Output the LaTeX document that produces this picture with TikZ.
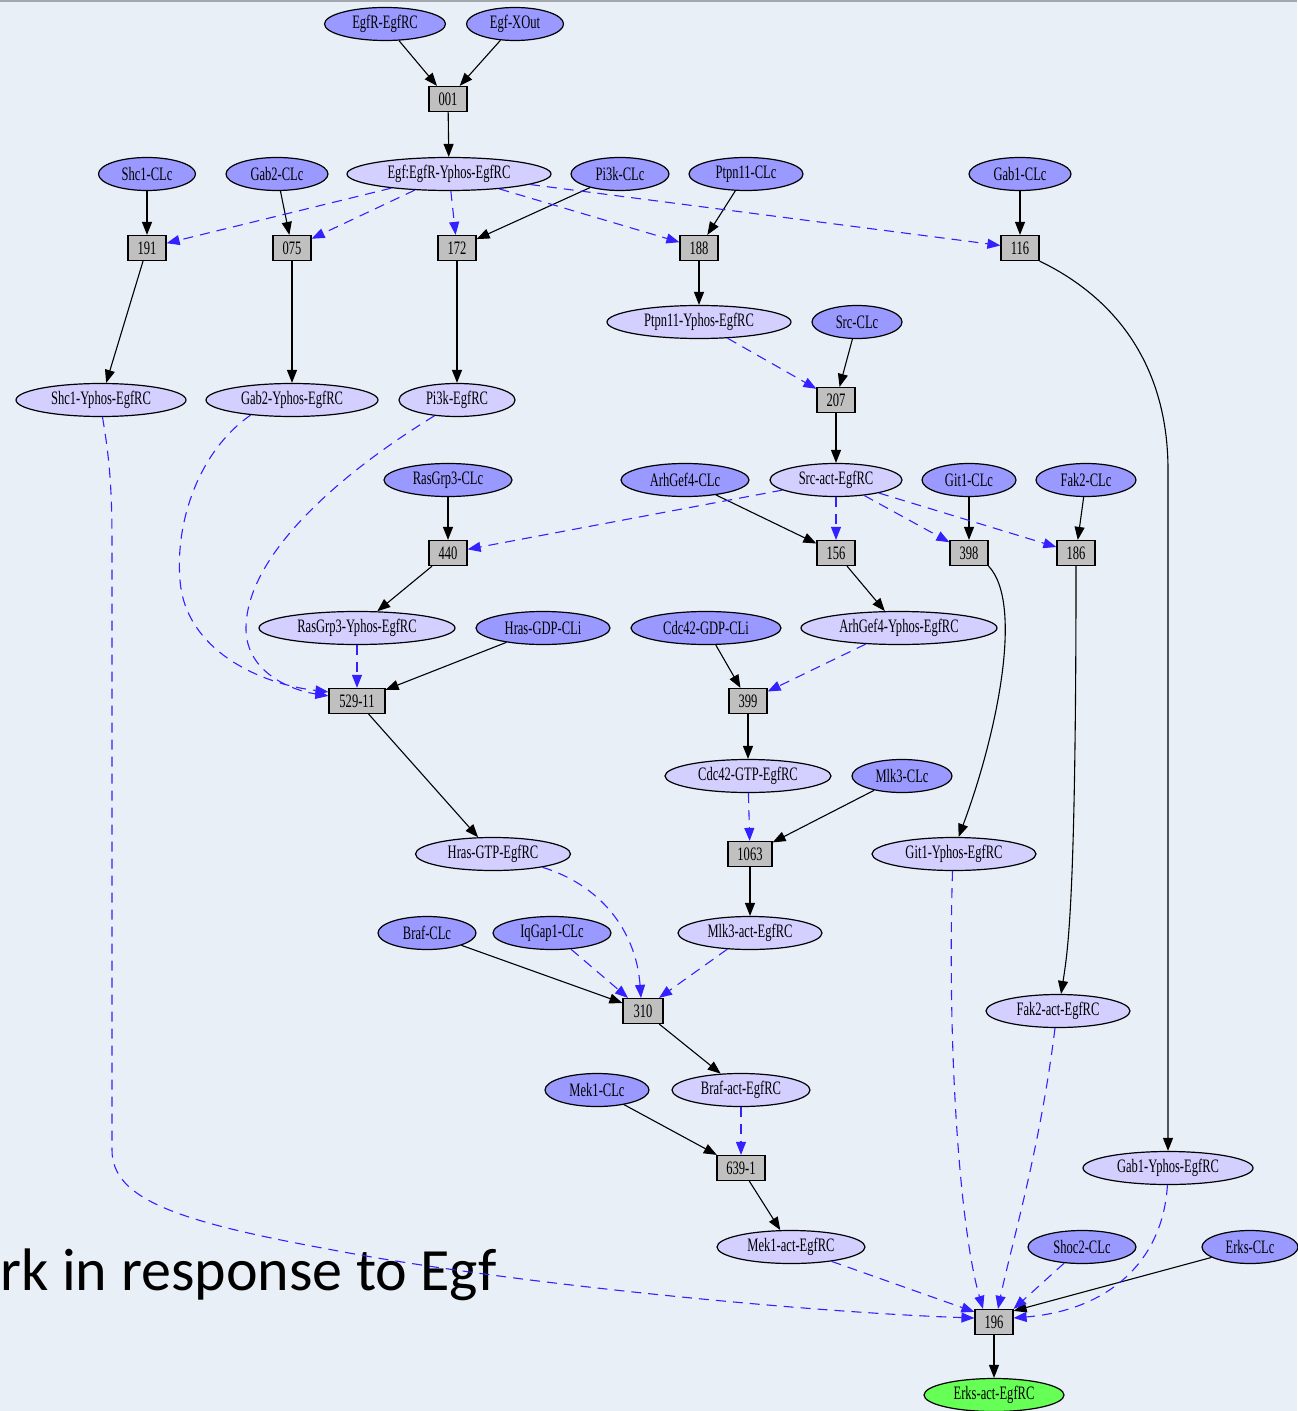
\documentclass[tikz,border=0pt]{standalone}
\usepackage{fontspec}
\newfontfamily\gvfont[FakeStretch=0.66]{Liberation Serif}
\newfontfamily\titlefont{Carlito}
\usetikzlibrary{shapes.geometric,arrows.meta}

\definecolor{paper}{HTML}{E9EFF6}
\definecolor{topedge}{HTML}{A4A8AE}
\definecolor{clc}{HTML}{9999FF}
\definecolor{cplx}{HTML}{D3CFFF}
\definecolor{rxn}{HTML}{C0C0C0}
\definecolor{goal}{HTML}{66FF55}
\definecolor{modlink}{HTML}{3322FF}

\tikzset{
  species/.style={ellipse, draw=black, line width=0.6pt, inner sep=0pt,
    minimum height=16.5pt, font=\gvfont\fontsize{9.5}{10}\selectfont},
  free/.style={species, fill=clc},
  bound/.style={species, fill=cplx},
  target/.style={species, fill=goal},
  wd/.style={minimum width=#1*0.5pt},
  rxnbox/.style={rectangle, draw=black, line width=0.6pt, fill=rxn, inner sep=0pt,
    minimum height=12.5pt, minimum width=19pt, font=\gvfont\fontsize{9.5}{10}\selectfont},
  flow/.style={draw=black, line width=0.55pt, -{Triangle[length=6.5pt,width=5pt]}},
  modlinkarrow/.style={draw=modlink, line width=0.55pt, dash pattern=on 5pt off 3.5pt,
    -{Triangle[length=6.5pt,width=5pt]}},
}

\begin{document}
\begin{tikzpicture}[x=0.5pt,y=-0.5pt]
\useasboundingbox (0,0) rectangle (1297,1411);
\fill[paper] (0,0) rectangle (1297,1411);
\fill[topedge] (0,0) rectangle (1297,2);

% title line
\node[anchor=base west, inner sep=0pt, font=\titlefont\fontsize{30}{34}\selectfont] (title) at (0,1290) {rk in response to Egf};

% species and reactions
\node[free,wd=121] (egfr) at (385,24) {EgfR-EgfRC};
\node[free,wd=97] (egfx) at (515,24) {Egf-XOut};
\node[rxnbox] (r001) at (448,99) {001};
\node[bound,wd=204] (egfy) at (449,174) {Egf:EgfR-Yphos-EgfRC};
\node[free,wd=97] (shc1) at (147,174) {Shc1-CLc};
\node[free,wd=102] (gab2) at (277,174) {Gab2-CLc};
\node[free,wd=98] (pi3k) at (620,174) {Pi3k-CLc};
\node[free,wd=114] (ptpn) at (746,174) {Ptpn11-CLc};
\node[free,wd=102] (gab1) at (1020,174) {Gab1-CLc};
\node[rxnbox] (r191) at (147,248) {191};
\node[rxnbox] (r075) at (292,248) {075};
\node[rxnbox] (r172) at (457,248) {172};
\node[rxnbox] (r188) at (699,248) {188};
\node[rxnbox] (r116) at (1020,248) {116};
\node[bound,wd=184] (ptpny) at (699,322) {Ptpn11-Yphos-EgfRC};
\node[free,wd=90] (src) at (857,322) {Src-CLc};
\node[rxnbox] (r207) at (836,400) {207};
\node[bound,wd=170] (shc1y) at (101,400) {Shc1-Yphos-EgfRC};
\node[bound,wd=172] (gab2y) at (292,400) {Gab2-Yphos-EgfRC};
\node[bound,wd=116] (pi3ke) at (457,400) {Pi3k-EgfRC};
\node[free,wd=128] (rasg) at (448,480) {RasGrp3-CLc};
\node[free,wd=128] (arhg) at (685,480) {ArhGef4-CLc};
\node[bound,wd=132] (srca) at (836,480) {Src-act-EgfRC};
\node[free,wd=94] (git1) at (969,480) {Git1-CLc};
\node[free,wd=100] (fak2) at (1086,480) {Fak2-CLc};
\node[rxnbox] (r440) at (448,553) {440};
\node[rxnbox] (r156) at (836,553) {156};
\node[rxnbox] (r398) at (969,553) {398};
\node[rxnbox] (r186) at (1076,553) {186};
\node[bound,wd=196] (rasgy) at (357,628) {RasGrp3-Yphos-EgfRC};
\node[free,wd=134] (hrasgdp) at (543,628) {Hras-GDP-CLi};
\node[free,wd=150] (cdcgdp) at (706,628) {Cdc42-GDP-CLi};
\node[bound,wd=196] (arhgy) at (899,628) {ArhGef4-Yphos-EgfRC};
\node[rxnbox,minimum width=28pt] (r529) at (357,701) {529-11};
\node[rxnbox] (r399) at (748,701) {399};
\node[bound,wd=166] (cdcgtp) at (748,776) {Cdc42-GTP-EgfRC};
\node[free,wd=100] (mlk3) at (902,776) {Mlk3-CLc};
\node[rxnbox,minimum width=22pt] (r1063) at (750,854) {1063};
\node[bound,wd=155] (hrasgtp) at (493,854) {Hras-GTP-EgfRC};
\node[bound,wd=164] (git1y) at (954,854) {Git1-Yphos-EgfRC};
\node[free,wd=98] (braf) at (427,933) {Braf-CLc};
\node[free,wd=118] (iqgap) at (552,933) {IqGap1-CLc};
\node[bound,wd=144] (mlk3a) at (750,933) {Mlk3-act-EgfRC};
\node[rxnbox,minimum width=20pt] (r310) at (643,1011) {310};
\node[bound,wd=144] (fak2a) at (1058,1011) {Fak2-act-EgfRC};
\node[free,wd=104] (mek1) at (597,1090) {Mek1-CLc};
\node[bound,wd=138] (brafa) at (741,1090) {Braf-act-EgfRC};
\node[rxnbox,minimum width=24pt] (r639) at (741,1168) {639-1};
\node[bound,wd=170] (gab1y) at (1168,1168) {Gab1-Yphos-EgfRC};
\node[bound,wd=148] (mek1a) at (791,1247) {Mek1-act-EgfRC};
\node[free,wd=108] (shoc2) at (1082,1247) {Shoc2-CLc};
\node[free,wd=96] (erks) at (1250,1247) {Erks-CLc};
\node[rxnbox] (r196) at (994,1322) {196};
\node[target,wd=140] (erksa) at (994,1395) {Erks-act-EgfRC};

% reactant and product links
\draw[flow] (egfr) -- (r001);
\draw[flow] (egfx) -- (r001);
\draw[flow] (r001) -- (egfy);
\draw[flow] (shc1) -- (r191);
\draw[flow] (gab2) -- (r075);
\draw[flow] (pi3k) -- (r172);
\draw[flow] (ptpn) -- (r188);
\draw[flow] (gab1) -- (r116);
\draw[flow] (r191) -- (shc1y);
\draw[flow] (r075) -- (gab2y);
\draw[flow] (r172) -- (pi3ke);
\draw[flow] (r188) -- (ptpny);
\draw[flow] (r116.south east) .. controls (1120,300) and (1168,370) .. (1168,470) -- (gab1y.north);
\draw[flow] (src) -- (r207);
\draw[flow] (r207) -- (srca);
\draw[flow] (rasg) -- (r440);
\draw[flow] (arhg) -- (r156);
\draw[flow] (git1) -- (r398);
\draw[flow] (fak2) -- (r186);
\draw[flow] (r440) -- (rasgy);
\draw[flow] (r156) -- (arhgy);
\draw[flow] (r398.south east) .. controls (1025,605) and (995,740) .. (git1y.75);
\draw[flow] (r186.south) .. controls (1076,900) and (1068,950) .. (fak2a.80);
\draw[flow] (hrasgdp) -- (r529);
\draw[flow] (r529) -- (hrasgtp);
\draw[flow] (cdcgdp) -- (r399);
\draw[flow] (r399) -- (cdcgtp);
\draw[flow] (mlk3) -- (r1063);
\draw[flow] (r1063) -- (mlk3a);
\draw[flow] (braf) -- ([yshift=4pt]r310.west);
\draw[flow] (r310) -- (brafa);
\draw[flow] (mek1) -- (r639);
\draw[flow] (r639) -- (mek1a);
\draw[flow] (erks) -- ([yshift=-1pt]r196.north east);
\draw[flow] (r196) -- (erksa);

% modifier links
\draw[modlinkarrow] (egfy) -- (r191);
\draw[modlinkarrow] (egfy) -- (r075);
\draw[modlinkarrow] (egfy) -- (r172);
\draw[modlinkarrow] (egfy) -- (r188);
\draw[modlinkarrow] (egfy) -- (r116);
\draw[modlinkarrow] (ptpny) -- (r207);
\draw[modlinkarrow] (srca) -- (r440);
\draw[modlinkarrow] (srca) -- (r156);
\draw[modlinkarrow] (srca) -- (r398);
\draw[modlinkarrow] (srca) -- (r186);
\draw[modlinkarrow] (gab2y.200) .. controls (200,450) and (175,520) .. (180,580)
  .. controls (185,650) and (260,684) .. ([yshift=-2pt]r529.north west);
\draw[modlinkarrow] (pi3ke.215) .. controls (330,480) and (245,560) .. (246,630)
  .. controls (247,672) and (290,690) .. ([yshift=-4pt]r529.north west);
\draw[modlinkarrow] (rasgy) -- (r529);
\draw[modlinkarrow] (arhgy) -- (r399);
\draw[modlinkarrow] (cdcgtp) -- (r1063);
\draw[modlinkarrow] (hrasgtp.-15) .. controls (600,885) and (636,930) .. ([xshift=-1pt]r310.north);
\draw[modlinkarrow] (iqgap) -- ([xshift=-7.5pt]r310.north);
\draw[modlinkarrow] (mlk3a) -- ([xshift=8pt]r310.north);
\draw[modlinkarrow] (brafa) -- (r639);
\draw[modlinkarrow] (mek1a) -- ([yshift=-1.5pt]r196.north west);
\draw[modlinkarrow] (shc1y.275) .. controls (108,450) and (112,480) .. (112,540) -- (112,1150)
  .. controls (112,1200) and (180,1222) .. (333,1250)
  .. controls (500,1282) and (800,1312) .. ([yshift=2pt]r196.west);
\draw[modlinkarrow] (git1y.265) .. controls (947,1050) and (960,1230) .. ([xshift=-5.5pt]r196.north);
\draw[modlinkarrow] (fak2a.260) .. controls (1040,1150) and (1010,1250) .. ([xshift=2pt]r196.north);
\draw[modlinkarrow] (shoc2) -- (r196.north east);
\draw[modlinkarrow] (gab1y.268) .. controls (1163,1260) and (1110,1310) .. ([yshift=2pt]r196.east);
\end{tikzpicture}
\end{document}
